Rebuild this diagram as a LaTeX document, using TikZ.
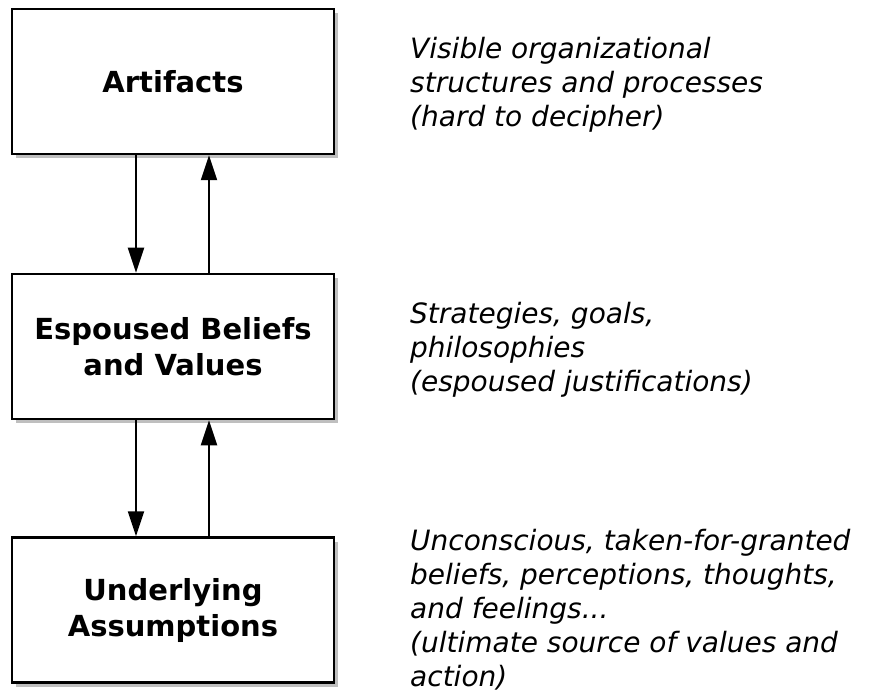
\documentclass[tikz,border=0pt]{standalone}
\usepackage{fontspec}
\setmainfont{DejaVu Sans}
\usetikzlibrary{arrows.meta,shadows}

\begin{document}
\begin{tikzpicture}[x=1pt,y=-1pt,
		level/.style={draw, line width=2.5pt, fill=white, minimum width=322pt, minimum height=145pt, inner sep=0pt, align=center, font=\fontsize{29}{36}\selectfont\bfseries, drop shadow={shadow xshift=4pt, shadow yshift=-4pt, opacity=0.25, fill=black}},
		note/.style={anchor=west, align=left, inner sep=0pt, font=\fontsize{28}{34}\selectfont\itshape},
		flow/.style={-{Triangle[length=25pt,width=16pt]}, line width=2pt}]
		\useasboundingbox (0,0) rectangle (894,692);

		\node[level] (art) at (173,81.5) {Artifacts};
		\node[level] (esp) at (173,346.5) {Espoused Beliefs\\and Values};
		\node[level] (ass) at (173,610) {Underlying\\Assumptions};

		\draw[flow] ([xshift=-37pt]art.south) -- ([xshift=-37pt]esp.north);
		\draw[flow] ([xshift=36pt]esp.north) -- ([xshift=36pt]art.south);
		\draw[flow] ([xshift=-37pt]esp.south) -- ([xshift=-37pt]ass.north);
		\draw[flow] ([xshift=36pt]ass.north) -- ([xshift=36pt]esp.south);

		\node[note] (artnote) at (410,85) {Visible organizational\\structures and processes\\(hard to decipher)};
		\node[note] (espnote) at (410,350) {Strategies, goals,\\philosophies\\(espoused justifications)};
		\node[note] (assnote) at (410,610) {Unconscious, taken-for-granted\\beliefs, perceptions, thoughts,\\and feelings...\\(ultimate source of values and\\action)};
	\end{tikzpicture}
\end{document}
